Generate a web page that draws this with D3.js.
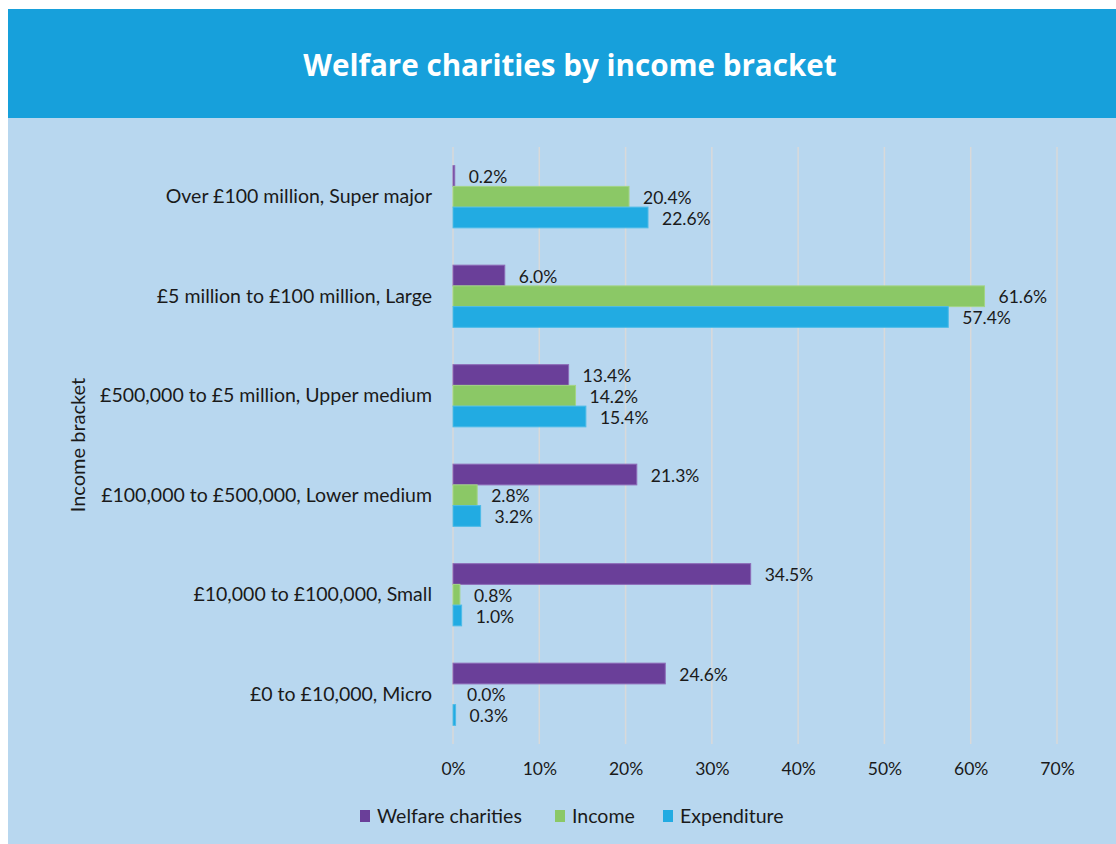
<!DOCTYPE html>
<html>
<head>
<meta charset="utf-8">
<script src="https://cdn.jsdelivr.net/npm/d3@7"></script>
<style>
  body { margin: 0; background: #fff; }
  svg { display: block; }
  text { font-family: Lato, "Open Sans", sans-serif; fill: #1a1a1a; }
</style>
</head>
<body>
<svg id="chart" width="1116" height="844"></svg>
<script>
// chart data
const categories = [
  "Over £100 million, Super major",
  "£5 million to £100 million, Large",
  "£500,000 to £5 million, Upper medium",
  "£100,000 to £500,000, Lower medium",
  "£10,000 to £100,000, Small",
  "£0 to £10,000, Micro"
];
const seriesNames = ["Welfare charities", "Income", "Expenditure"];
const welfare = [0.2, 6.0, 13.4, 21.3, 34.5, 24.6];
const income = [20.4, 61.6, 14.2, 2.8, 0.8, 0.0];
const expenditure = [22.6, 57.4, 15.4, 3.2, 1.0, 0.3];
const xTicks = [0, 10, 20, 30, 40, 50, 60, 70];
const colors = ["#6a3f99", "#8bc866", "#22abe2"];
const strokes = ["#8d6bb8", "#a3d486", "#4dbbe8"];

const svg = d3.select("#chart");
const series = [welfare, income, expenditure];

// backgrounds
svg.append("rect").attr("x", 8).attr("y", 118).attr("width", 1108).attr("height", 726)
  .attr("fill", "#b8d7ef");
svg.append("rect").attr("x", 8).attr("y", 9).attr("width", 1108).attr("height", 109)
  .attr("fill", "#17a0db");
svg.append("text")
  .attr("x", 570).attr("y", 76)
  .attr("text-anchor", "middle")
  .style("font-family", "'Open Sans', Lato, sans-serif")
  .style("font-weight", "bold")
  .style("font-size", "29.6px")
  .style("fill", "#fff")
  .text("Welfare charities by income bracket");

const plotTop = 147, plotBottom = 744;

const xScale = d3.scaleLinear().domain([0, 70]).range([453, 1057]);
const yScale = d3.scaleBand().domain(categories).range([plotTop, plotBottom]).paddingInner(0.375).paddingOuter(0.1875);
const inner = d3.scaleBand().domain(d3.range(3)).range([0, yScale.bandwidth()]);

// gridlines
svg.append("g").selectAll("line")
  .data(xTicks)
  .enter().append("line")
  .attr("x1", d => xScale(d)).attr("x2", d => xScale(d))
  .attr("y1", plotTop).attr("y2", plotBottom)
  .attr("stroke", "#d9d9d9")
  .attr("stroke-width", 1.5);

// x axis tick labels
const xAxis = d3.axisBottom(xScale).tickValues(xTicks).tickFormat(d => d + "%").tickSize(0).tickPadding(0);
const xg = svg.append("g").attr("transform", `translate(0, ${plotBottom + 19})`).call(xAxis);
xg.select(".domain").remove();
xg.selectAll("text").style("font-size", "17.5px").style("fill", "#1a1a1a")
  .style("font-family", "Lato, 'Open Sans', sans-serif");

// y axis category labels
const yAxis = d3.axisLeft(yScale).tickSize(0).tickPadding(21);
const yg = svg.append("g").attr("transform", `translate(${xScale(0)}, 0)`).call(yAxis);
yg.select(".domain").remove();
yg.selectAll("text").style("font-size", "19.5px").style("fill", "#1a1a1a")
  .style("font-family", "Lato, 'Open Sans', sans-serif");

// axis title
svg.append("text")
  .attr("transform", "translate(85, 445) rotate(-90)")
  .attr("text-anchor", "middle")
  .style("font-size", "20px")
  .text("Income bracket");

// bars
series.forEach((vals, si) => {
  const g = svg.append("g").attr("class", "series-" + si);
  g.selectAll("rect")
    .data(vals)
    .enter().append("rect")
    .attr("x", xScale(0))
    .attr("y", (d, i) => yScale(categories[i]) + inner(si))
    .attr("width", d => Math.max(0, xScale(d) - xScale(0)))
    .attr("height", inner.bandwidth())
    .attr("fill", colors[si])
    .attr("stroke", d => d > 0 ? strokes[si] : "none")
    .attr("stroke-width", 1);
  g.selectAll("text")
    .data(vals)
    .enter().append("text")
    .attr("x", d => xScale(d) + 14)
    .attr("y", (d, i) => yScale(categories[i]) + inner(si) + inner.bandwidth() / 2 + 1)
    .attr("dy", "0.35em")
    .style("font-size", "17.5px")
    .text(d => d.toFixed(1) + "%");
});

// legend
const legendX = [360, 555, 663];
const legend = svg.append("g").attr("transform", "translate(0, 816)");
seriesNames.forEach((name, i) => {
  legend.append("rect").attr("x", legendX[i]).attr("y", -6).attr("width", 10).attr("height", 12)
    .attr("fill", colors[i]);
  legend.append("text").attr("x", legendX[i] + 17).attr("y", 0).attr("dy", "0.35em")
    .style("font-size", "19.5px")
    .text(name);
});
</script>
</body>
</html>
